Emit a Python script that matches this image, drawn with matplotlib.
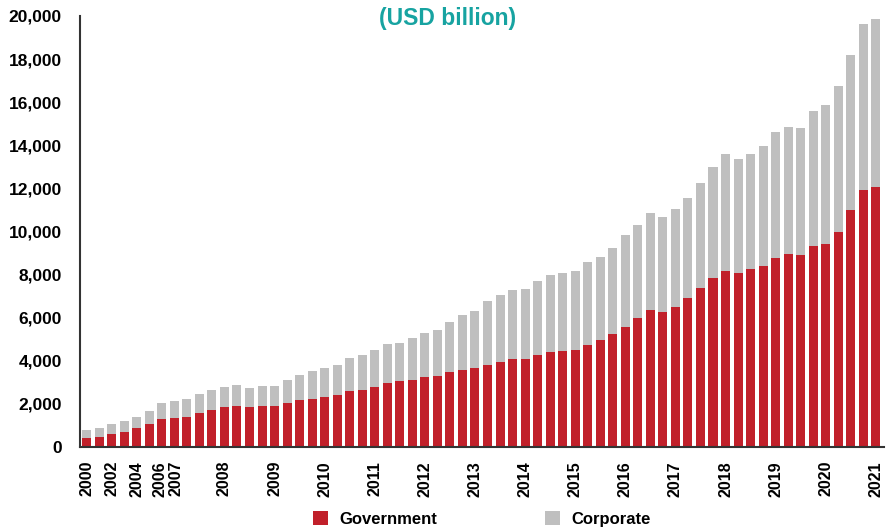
import matplotlib
matplotlib.use("Agg")
import matplotlib.pyplot as plt
from matplotlib.patches import Patch
from matplotlib.ticker import FuncFormatter
import matplotlib.transforms as mtransforms
import numpy as np

plt.rcParams['font.family'] = ['Liberation Sans', 'DejaVu Sans']

# Tick labels shown on the x axis (bar index -> label)
tick_labels = ["2000", "2002", "2004", "2006", "2007", "2008", "2009", "2010", "2011",
               "2012", "2013", "2014", "2015", "2016", "2017", "2018", "2019", "2020", "2021"]
tick_bars = [0, 2, 4, 6, 7, 11, 15, 19, 23, 27, 31, 35, 39, 43, 47, 51, 55, 59, 63]

# Series values (USD billion), one per bar: annual 2000-2006, then quarterly
government = [420, 460, 600, 700, 880, 1070, 1300, 1350, 1390, 1580,
              1720, 1860, 1900, 1860, 1900, 1900, 2040, 2180, 2230, 2320,
              2410, 2600, 2650, 2780, 2970, 3060, 3110, 3250, 3290, 3480,
              3570, 3670, 3800, 3940, 4080, 4080, 4270, 4410, 4450, 4500,
              4730, 4960, 5240, 5570, 5990, 6360, 6260, 6500, 6910, 7380,
              7840, 8170, 8070, 8260, 8400, 8770, 8960, 8910, 9330, 9420,
              9980, 11000, 11920, 12060]
corporate = [370, 420, 470, 510, 510, 600, 740, 780, 840, 880,
             930, 920, 980, 880, 930, 930, 1070, 1160, 1300, 1350,
             1390, 1530, 1620, 1720, 1810, 1770, 1950, 2040, 2140, 2320,
             2550, 2640, 2970, 3110, 3200, 3250, 3430, 3570, 3620, 3670,
             3850, 3860, 3990, 4270, 4310, 4500, 4410, 4540, 4640, 4870,
             5150, 5430, 5290, 5340, 5570, 5850, 5890, 5890, 6260, 6450,
             6770, 7190, 7710, 7800]

series_names = ["Government", "Corporate"]
title_text = "(USD billion)"

RED = "#C1202A"
GRAY = "#BFBFBF"
TEAL = "#17A3A1"

fig = plt.figure(figsize=(8.87, 5.29), dpi=100)
ax = fig.add_axes([80/887, 82/529, (884-80)/887, (447-16)/529])

x = np.arange(len(government))
ax.bar(x, government, width=0.72, color=RED, linewidth=0)
ax.bar(x, corporate, bottom=government, width=0.72, color=GRAY, linewidth=0)

ax.set_xlim(-0.53, 63.65)
ax.set_ylim(0, 20000)
ax.set_yticks(np.arange(0, 20001, 2000))
ax.yaxis.set_major_formatter(FuncFormatter(lambda v, p: f"{int(v):,}"))
ax.set_xticks(tick_bars)
ax.set_xticklabels(tick_labels, rotation=90, fontweight='bold', fontsize=11.5)
for lab in ax.get_yticklabels():
    lab.set_fontweight('bold')
    lab.set_fontsize(12.5)
ax.tick_params(axis='y', length=0, pad=13)
ax.tick_params(axis='x', length=0, pad=10)

# nudge the two crowded labels apart slightly
xl = ax.get_xticklabels()
for lab, dx in ((xl[3], -1.5), (xl[4], 1.5)):
    lab.set_transform(lab.get_transform() +
                      mtransforms.ScaledTranslation(dx / 100, 0, fig.dpi_scale_trans))

for s in ['top', 'right']:
    ax.spines[s].set_visible(False)
for s in ['left', 'bottom']:
    ax.spines[s].set_color('#333333')
    ax.spines[s].set_linewidth(1.5)

fig.text(448/887, 1 - 19/529, title_text, color=TEAL, fontsize=16.5, fontweight='bold',
         ha='center', va='center')

handles = [Patch(facecolor=RED, edgecolor='none'), Patch(facecolor=GRAY, edgecolor='none')]
fig.legend(handles, series_names, loc='center', bbox_to_anchor=(482/887, 1 - 519/529),
           ncol=2, frameon=False, prop={'weight': 'bold', 'size': 12},
           handlelength=0.9, handleheight=0.9, handletextpad=0.65, columnspacing=6.5,
           borderpad=0, borderaxespad=0)

fig.savefig("out.png", dpi=100)
